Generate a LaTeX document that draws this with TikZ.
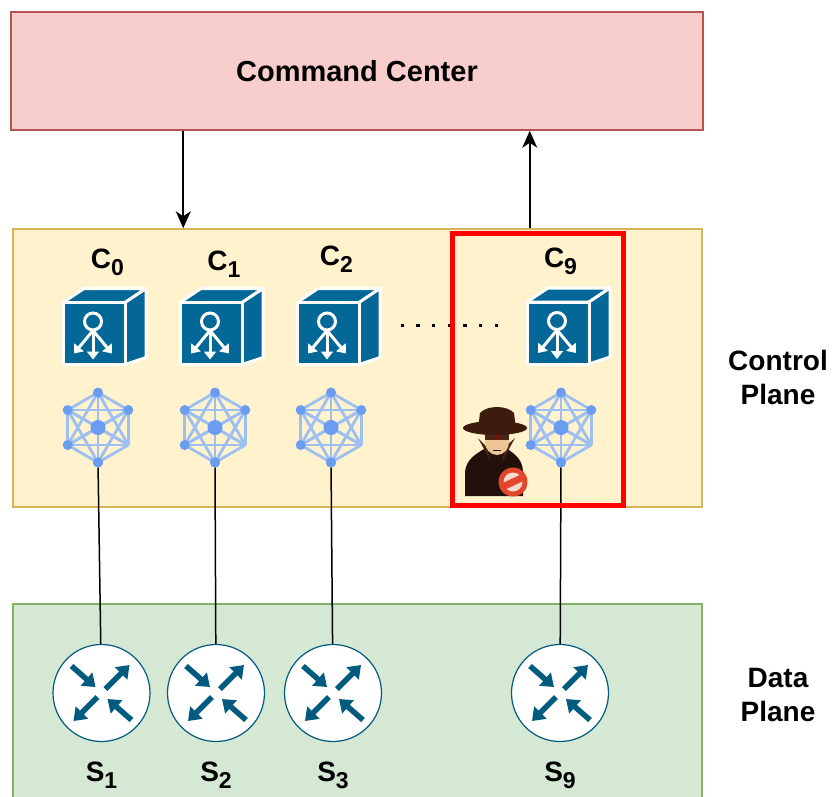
\documentclass[tikz,border=0pt]{standalone}
\usepackage{fontspec}
\setmainfont{Liberation Sans}
\usetikzlibrary{positioning, arrows.meta}

\definecolor{ccfill}{HTML}{F8CECC}
\definecolor{ccline}{HTML}{B85450}
\definecolor{ctrlfill}{HTML}{FFF2CC}
\definecolor{ctrlline}{HTML}{D6B656}
\definecolor{datafill}{HTML}{D5E8D4}
\definecolor{dataline}{HTML}{82B366}
\definecolor{cisco}{HTML}{036897}
\definecolor{switchblue}{HTML}{005B7F}
\definecolor{meshnode}{HTML}{6A9DF0}
\definecolor{meshedge}{HTML}{9EBFF2}
\definecolor{coat}{HTML}{22100A}
\definecolor{coatlite}{HTML}{4B2616}
\definecolor{skin}{HTML}{EBC594}
\definecolor{hat}{HTML}{3D1C0E}
\definecolor{hatband}{HTML}{1C0B04}
\definecolor{nored}{HTML}{E2462C}
\definecolor{nopale}{HTML}{FADAD0}

% label with a lowered index, e.g. C_0
\newcommand{\idx}[2]{#1\raisebox{-7pt}{\fontsize{23}{23}\selectfont #2}}

\tikzset{
	plane/.style={
		draw,
		line width=1.5pt,
		inner sep=0pt,
		font={\bfseries\fontsize{29}{34}\selectfont}
	},
	sidetext/.style={
		align=center,
		inner sep=0pt,
		font={\bfseries\fontsize{28}{34}\selectfont}
	},
	lbl/.style={
		inner sep=0pt,
		font={\bfseries\fontsize{28}{34}\selectfont}
	},
	flow/.style={
		line width=1.8pt,
		-{Stealth[length=17pt, width=15pt, inset=5pt]}
	},
	wire/.style={line width=1.5pt},
	cubeface/.style={draw=white, fill=cisco, line width=3pt, line join=round},
	meshdot/.style={circle, fill=meshnode, inner sep=0pt, minimum size=10pt},
	router/.style={
		circle,
		draw=switchblue,
		line width=1.2pt,
		fill=white,
		inner sep=0pt,
		minimum size=97pt,
		path picture={
			\begin{scope}[shift={(path picture bounding box.center)}, switchblue, line width=5.5pt]
				\draw[-{Triangle[length=12pt, width=17pt]}] (-30,-27) -- (-6,-6);
				\draw[-{Triangle[length=12pt, width=17pt]}] (4,-4) -- (28,-28);
				\draw[-{Triangle[length=12pt, width=17pt]}] (-4,4) -- (-28,28);
				\draw[-{Triangle[length=12pt, width=17pt]}] (30,27) -- (6,6);
			\end{scope}
		}
	},
	ctrlcube/.pic={
		\path[cubeface] (-31,-31) -- (-10,-45) -- (52,-45) -- (31,-31) -- cycle;
		\path[cubeface] (31,-31) -- (52,-45) -- (52,24) -- (31,31) -- cycle;
		\path[cubeface] (-31,-31) rectangle (31,31);
		\draw[white, line width=3pt] (-1,-12) circle (8.5);
		\foreach \tip in {(-20,20), (-1,26), (18,20)}
			\draw[white, line width=3pt, -{Triangle[length=8pt, width=12pt]}] (-1,-3) -- \tip;
	},
	meshnet/.pic={
		\foreach \i in {1,...,6}{
			\draw[meshedge, line width=2.8pt] (0,0) -- (30+60*\i:35);
			\foreach \j in {\i,...,6}
				\draw[meshedge, line width=2.8pt] (30+60*\i:35) -- (30+60*\j:35);
		}
		\foreach \i in {1,...,5}
			\node[meshdot] at (30+60*\i:35) {};
		\node[meshdot] (-bot) at (0,35) {};
		\node[meshdot, minimum size=15pt] (-hub) at (0,0) {};
	},
	intruder/.pic={
		% coat and collar
		\fill[coat] (-30,46) -- (-30,22) .. controls (-29,10) and (-20,4) .. (-9,-2) -- (11,-2) .. controls (20,4) and (28,10) .. (28,22) -- (28,46) -- cycle;
		\fill[coatlite] (-9,-4) -- (-17,-12) -- (-4,12) -- cycle;
		\fill[coatlite] (11,-4) -- (20,-12) -- (7,12) -- cycle;
		% face
		\fill[skin] (2,-8) ellipse [x radius=12, y radius=13];
		\fill[coatlite] (-10,-16) rectangle (14,-10);
		\draw[red!70!black, line width=0.8pt] (1,-15) -- (4,-12.5) -- (1,-10.5);
		\draw[coat, line width=1pt] (-2,0) -- (6,0);
		% hat
		\fill[hat] (-17,-21) -- (-15,-37) .. controls (-8,-45) and (12,-45) .. (19,-37) -- (21,-21) -- cycle;
		\fill[hatband] (-17,-27) rectangle (21,-22);
		\fill[hat] (0,-22) ellipse [x radius=32, y radius=7];
		% forbidden sign
		\begin{scope}[shift={(18,32)}]
			\fill[nored] (0,0) circle (14.5);
			\fill[nopale] (0,0) circle (9.5);
			\fill[nored, rotate=25] (-11,-3.5) rectangle (11,3.5);
		\end{scope}
	}
}

\begin{document}
\begin{tikzpicture}[x=1pt, y=-1pt]
	\useasboundingbox (0,0) rectangle (835,796);

	% the three layers
	\node[plane, fill=ccfill, draw=ccline, minimum width=692pt, minimum height=118pt] (cc) at (357,71) {Command Center};
	\node[plane, fill=ctrlfill, draw=ctrlline, minimum width=689pt, minimum height=278pt] (ctrl) at (357.5,368) {};
	\node[plane, fill=datafill, draw=dataline, minimum width=689pt, minimum height=200pt] (data) at (357.5,704) {};

	\draw[flow] ([xshift=173pt]cc.south west) -- ([xshift=171pt]ctrl.north west);
	\draw[flow] ([xshift=517.5pt]ctrl.north west) -- ([xshift=519.5pt]cc.south west);

	% controllers
	\pic (k0) at (94,333.5) {ctrlcube};
	\pic (k1) at (211,333.5) {ctrlcube};
	\pic (k2) at (328,333.5) {ctrlcube};
	\pic (k9) at (558,333) {ctrlcube};

	\node[lbl, anchor=base] (c0) at (107.5,268) {\idx{C}{0}};
	\node[lbl, anchor=base] (c1) at (224,270) {\idx{C}{1}};
	\node[lbl, anchor=base] (c2) at (336.5,265) {\idx{C}{2}};
	\node[lbl, anchor=base] (c9) at (560.5,267) {\idx{C}{9}};

	\foreach \k in {0,...,6}
		\fill (400.5+15.7*\k,323.5) rectangle ++(3.3,3.3);

	\pic (m0) at (98,427.5) {meshnet};
	\pic (m1) at (215,427.5) {meshnet};
	\pic (m2) at (331,427.5) {meshnet};
	\pic (m9) at (561,427.5) {meshnet};

	% switches
	\node[router] (s1) at (101.5,693) {};
	\node[router] (s2) at (216,693) {};
	\node[router] (s3) at (333,693) {};
	\node[router] (s9) at (560,693) {};

	\draw[wire] (m0-bot) -- (s1);
	\draw[wire] (m1-bot) -- (s2);
	\draw[wire] (m2-bot) -- (s3);
	\draw[wire] (m9-bot) -- (s9);

	\node[lbl, below=20pt of s1] (l1) {\idx{S}{1}};
	\node[lbl, below=20pt of s2] (l2) {\idx{S}{2}};
	\node[lbl, below=20pt of s3] (l3) {\idx{S}{3}};
	\node[lbl, below=20pt of s9] (l9) {\idx{S}{9}};

	% compromised controller
	\node[draw=red, line width=5pt, inner sep=0pt, minimum width=171pt, minimum height=272.5pt] (bad) at (538,369.25) {};
	\pic (spy) at (495,450) {intruder};

	\node[sidetext] (cpl) at (778,377.5) {Control\\Plane};
	\node[sidetext] (dpl) at (778,694.5) {Data\\Plane};
\end{tikzpicture}
\end{document}
